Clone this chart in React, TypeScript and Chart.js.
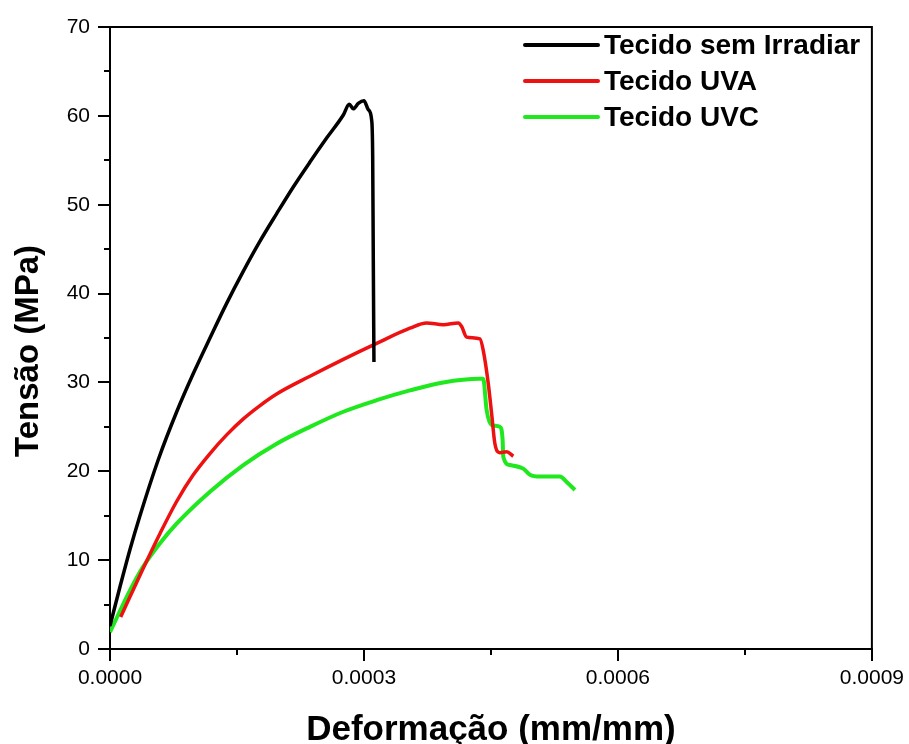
import React, { useEffect, useRef } from "react";
import { Chart, registerables } from "chart.js";

Chart.register(...registerables);

const FONT = '"Liberation Sans", Arial, Helvetica, sans-serif';

const seriesLabels = ["Tecido sem Irradiar", "Tecido UVA", "Tecido UVC"];
const seriesColors = ["#000000", "#ee1111", "#1fe81f"];

const xTicks = [0, 0.0003, 0.0006, 0.0009];
const xMinorTicks = [0.00015, 0.00045, 0.00075];
const yMinorTicks = [5, 15, 25, 35, 45, 55, 65];

const blackX = [0, 0.0000118, 0.0000236, 0.0000354, 0.000057, 0.0000788, 0.0000984, 0.0001181, 0.0001378, 0.0001574, 0.0001772, 0.0001969, 0.0002165, 0.0002362, 0.0002559, 0.0002756, 0.0002826, 0.0002874, 0.0002933, 0.0003, 0.0003051, 0.0003091, 0.0003103, 0.000311, 0.0003118];
const blackY = [2.6, 7.0, 11.2, 15.0, 21.3, 26.7, 31.0, 35.0, 38.9, 42.5, 45.9, 49.0, 52.0, 54.8, 57.5, 60.1, 61.3, 60.8, 61.4, 61.7, 60.7, 59.5, 55.4, 44.1, 32.3];

const redX = [0.0000126, 0.0000354, 0.0000591, 0.0000787, 0.0000984, 0.0001181, 0.0001378, 0.0001575, 0.0001772, 0.0001969, 0.0002362, 0.0002756, 0.000315, 0.0003543, 0.000374, 0.0003937, 0.0004114, 0.0004154, 0.0004213, 0.000437, 0.0004409, 0.0004468, 0.0004508, 0.0004547, 0.0004606, 0.0004685, 0.0004764];
const redY = [3.6, 8.3, 13.0, 16.6, 19.6, 22.0, 24.1, 25.9, 27.4, 28.7, 30.7, 32.6, 34.4, 36.1, 36.7, 36.5, 36.7, 36.3, 35.1, 34.9, 33.6, 29.9, 26.5, 23.1, 22.1, 22.2, 21.7];

const greenX = [0, 0.0000236, 0.0000394, 0.0000591, 0.0000787, 0.0001181, 0.0001575, 0.0001969, 0.0002362, 0.0002756, 0.000315, 0.0003543, 0.0003937, 0.000437, 0.0004409, 0.0004449, 0.0004508, 0.0004606, 0.0004638, 0.0004646, 0.0004724, 0.0004882, 0.0004961, 0.0005079, 0.0005315, 0.0005394, 0.0005492];
const greenY = [1.9, 6.6, 9.3, 11.9, 14.1, 17.7, 20.7, 23.1, 25.0, 26.7, 28.0, 29.1, 30.0, 30.4, 30.4, 26.9, 25.2, 25.0, 23.5, 21.6, 20.7, 20.3, 19.6, 19.4, 19.4, 18.8, 17.9];

const xTitle = "Deformação (mm/mm)";
const yTitle = "Tensão (MPa)";

const toPoints = (xs: number[], ys: number[]) => xs.map((x, i) => ({ x, y: ys[i] }));

const decorPlugin = {
  id: "decor",
  afterDraw(chart: any) {
    const ctx = chart.ctx;
    const { top, right, left, bottom } = chart.chartArea;
    const xs = chart.scales.x;
    const ys = chart.scales.y;
    ctx.save();
    ctx.strokeStyle = "#000";
    ctx.lineWidth = 2;
    ctx.beginPath();
    ctx.moveTo(left, top);
    ctx.lineTo(right, top);
    ctx.lineTo(right, bottom);
    ctx.stroke();
    ctx.beginPath();
    xMinorTicks.forEach((v) => {
      const px = Math.round(xs.getPixelForValue(v));
      ctx.moveTo(px, bottom);
      ctx.lineTo(px, bottom + 6);
    });
    yMinorTicks.forEach((v) => {
      const py = Math.round(ys.getPixelForValue(v));
      ctx.moveTo(left, py);
      ctx.lineTo(left - 6, py);
    });
    ctx.stroke();
    ctx.fillStyle = "#000";
    ctx.font = `bold 35px ${FONT}`;
    ctx.textAlign = "center";
    ctx.textBaseline = "alphabetic";
    ctx.fillText(xTitle, (left + right) / 2, 740);
    ctx.save();
    ctx.translate(29, 351);
    ctx.rotate(-Math.PI / 2);
    ctx.textBaseline = "middle";
    ctx.font = `bold 33px ${FONT}`;
    ctx.fillText(yTitle, 0, 0);
    ctx.restore();
    const legendY = [45, 81, 117];
    chart.data.datasets.forEach((ds: any, i: number) => {
      const y = legendY[i];
      ctx.strokeStyle = ds.borderColor;
      ctx.lineWidth = 4;
      ctx.lineCap = "round";
      ctx.beginPath();
      ctx.moveTo(525, y);
      ctx.lineTo(598, y);
      ctx.stroke();
      ctx.fillStyle = "#000";
      ctx.font = `bold 28px ${FONT}`;
      ctx.textAlign = "left";
      ctx.textBaseline = "middle";
      ctx.fillText(ds.label, 604, y + 1);
    });
    ctx.restore();
  },
};

export default function App() {
  const ref = useRef<HTMLCanvasElement>(null);
  useEffect(() => {
    if (!ref.current) return;
    const chart = new Chart(ref.current, {
      type: "line",
      data: {
        datasets: [
          { label: seriesLabels[0], data: toPoints(blackX, blackY), borderColor: seriesColors[0], borderWidth: 3.5, pointRadius: 0, cubicInterpolationMode: "monotone" },
          { label: seriesLabels[1], data: toPoints(redX, redY), borderColor: seriesColors[1], borderWidth: 3.5, pointRadius: 0, cubicInterpolationMode: "monotone" },
          { label: seriesLabels[2], data: toPoints(greenX, greenY), borderColor: seriesColors[2], borderWidth: 4, pointRadius: 0, cubicInterpolationMode: "monotone" },
        ],
      },
      options: {
        responsive: false,
        animation: false,
        layout: { padding: { top: 27, right: 37, left: 0, bottom: 0 } },
        plugins: { legend: { display: false }, tooltip: { enabled: false } },
        scales: {
          x: {
            type: "linear",
            min: 0,
            max: 0.0009,
            afterBuildTicks: (s: any) => {
              s.ticks = xTicks.map((v) => ({ value: v }));
            },
            afterFit: (s: any) => {
              s.height = 95;
            },
            ticks: {
              color: "#000",
              font: { family: FONT, size: 21 },
              padding: 5,
              maxRotation: 0,
              callback: (v: any) => Number(v).toFixed(4),
            },
            grid: { drawOnChartArea: false, drawTicks: true, tickLength: 12, color: "#000", lineWidth: 2 },
            border: { display: true, color: "#000", width: 2 },
          },
          y: {
            min: 0,
            max: 70,
            afterFit: (s: any) => {
              s.width = 110;
            },
            ticks: {
              stepSize: 10,
              color: "#000",
              font: { family: FONT, size: 21 },
              padding: 8,
            },
            grid: { drawOnChartArea: false, drawTicks: true, tickLength: 12, color: "#000", lineWidth: 2 },
            border: { display: true, color: "#000", width: 2 },
          },
        },
      },
      plugins: [decorPlugin],
    } as any);
    return () => chart.destroy();
  }, []);
  return (
    <div style={{ position: "absolute", left: 0, top: 0, width: 909, height: 744, background: "#fff" }}>
      <canvas ref={ref} width={909} height={744} />
    </div>
  );
}
